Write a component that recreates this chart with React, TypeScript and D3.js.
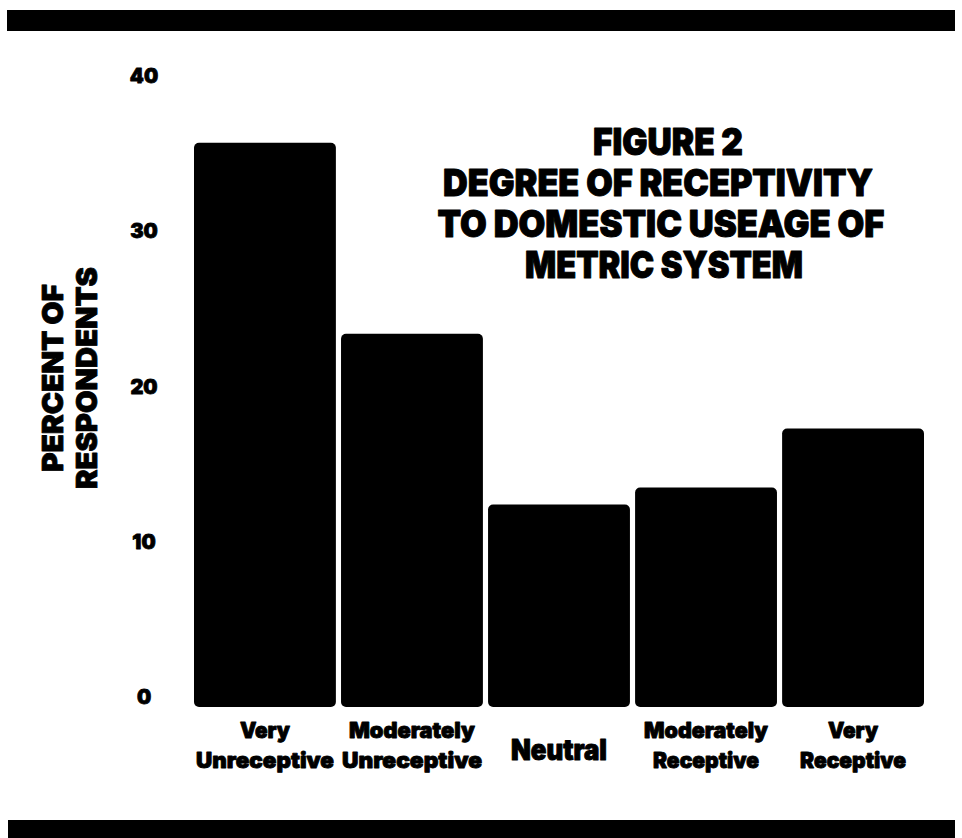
import React from "react";
import * as d3 from "d3";

// Survey categories, drawn left to right
const categories = [
  "Very Unreceptive",
  "Moderately Unreceptive",
  "Neutral",
  "Moderately Receptive",
  "Very Receptive",
];

// Label lines under each bar
const categoryLines: string[][] = [
  ["Very", "Unreceptive"],
  ["Moderately", "Unreceptive"],
  ["Neutral"],
  ["Moderately", "Receptive"],
  ["Very", "Receptive"],
];

// Percent of respondents in each category
const percents = [35.7, 23.4, 12.4, 13.5, 17.3];

const yTicks = [0, 10, 20, 30, 40];

const titleLines = [
  "FIGURE 2",
  "DEGREE OF RECEPTIVITY",
  "TO DOMESTIC USEAGE OF",
  "METRIC SYSTEM",
];

const W = 962;
const H = 838;
const FONT = "Inter, Lato, 'Liberation Sans', Arial, sans-serif";

export default function App() {
  const x = d3
    .scaleBand<string>()
    .domain(categories)
    .range([194, 924])
    .paddingInner(0.035)
    .paddingOuter(0);

  const y = d3.scaleLinear().domain([0, 40]).range([697, 76]);
  const floor = y(0) + 10;

  const titleWidths = [150, 430, 447, 278];
  const titleCx = [668, 658, 661, 664];
  const titleBase = [155, 196, 237, 278];

  const labelWidths: number[][] = [
    [50, 138],
    [126, 140],
    [96],
    [124, 106],
    [50, 106],
  ];

  return (
    <svg
      width={W}
      height={H}
      viewBox={`0 0 ${W} ${H}`}
      style={{ position: "absolute", left: 0, top: 0, background: "#fff" }}
    >
      <rect x={0} y={0} width={W} height={H} fill="#fff" />

      {/* heavy rules framing the figure */}
      <rect x={7} y={10} width={948} height={21} fill="#000" />
      <rect x={8} y={820} width={947} height={18} fill="#000" />

      {/* title block */}
      {titleLines.map((t, i) => (
        <text
          key={t}
          x={titleCx[i]}
          y={titleBase[i]}
          textAnchor="middle"
          fontFamily={FONT}
          fontWeight={900}
          fontSize={37}
          textLength={titleWidths[i]}
          lengthAdjust="spacingAndGlyphs"
          fill="#000"
          stroke="#000"
          strokeWidth={1}
          strokeLinejoin="round"
        >
          {t}
        </text>
      ))}

      {/* bars */}
      {categories.map((c, i) => {
        const top = y(percents[i]);
        return (
          <rect
            key={c}
            x={x(c)}
            y={top}
            width={x.bandwidth()}
            height={floor - top}
            rx={5}
            ry={5}
            fill="#000"
          />
        );
      })}

      {/* y tick labels */}
      {yTicks.map((t) => (
        <text
          key={t}
          x={144}
          y={y(t)}
          dy="0.36em"
          textAnchor="middle"
          fontFamily={FONT}
          fontWeight={900}
          fontSize={20}
          fill="#000"
          stroke="#000"
          strokeWidth={0.8}
          strokeLinejoin="round"
        >
          {t}
        </text>
      ))}

      {/* y axis title */}
      <g transform="translate(63,378) rotate(-90)">
        <text
          x={0}
          y={0}
          textAnchor="middle"
          fontFamily={FONT}
          fontWeight={900}
          fontSize={29}
          textLength={188}
          lengthAdjust="spacingAndGlyphs"
          fill="#000"
          stroke="#000"
          strokeWidth={0.8}
          strokeLinejoin="round"
        >
          PERCENT OF
        </text>
      </g>
      <g transform="translate(97,378) rotate(-90)">
        <text
          x={0}
          y={0}
          textAnchor="middle"
          fontFamily={FONT}
          fontWeight={900}
          fontSize={29}
          textLength={222}
          lengthAdjust="spacingAndGlyphs"
          fill="#000"
          stroke="#000"
          strokeWidth={0.8}
          strokeLinejoin="round"
        >
          RESPONDENTS
        </text>
      </g>

      {/* category labels */}
      {categories.map((c, i) => {
        const cx = (x(c) ?? 0) + x.bandwidth() / 2;
        const lines = categoryLines[i];
        if (lines.length === 1) {
          return (
            <text
              key={c}
              x={cx}
              y={760}
              textAnchor="middle"
              fontFamily={FONT}
              fontWeight={900}
              fontSize={28}
              textLength={labelWidths[i][0]}
              lengthAdjust="spacingAndGlyphs"
              fill="#000"
              stroke="#000"
              strokeWidth={1}
              strokeLinejoin="round"
            >
              {lines[0]}
            </text>
          );
        }
        return (
          <g key={c}>
            {lines.map((ln, j) => (
              <text
                key={ln}
                x={cx}
                y={738 + j * 30}
                textAnchor="middle"
                fontFamily={FONT}
                fontWeight={900}
                fontSize={22}
                textLength={labelWidths[i][j]}
                lengthAdjust="spacingAndGlyphs"
                fill="#000"
                stroke="#000"
                strokeWidth={0.9}
                strokeLinejoin="round"
              >
                {ln}
              </text>
            ))}
          </g>
        );
      })}
    </svg>
  );
}
